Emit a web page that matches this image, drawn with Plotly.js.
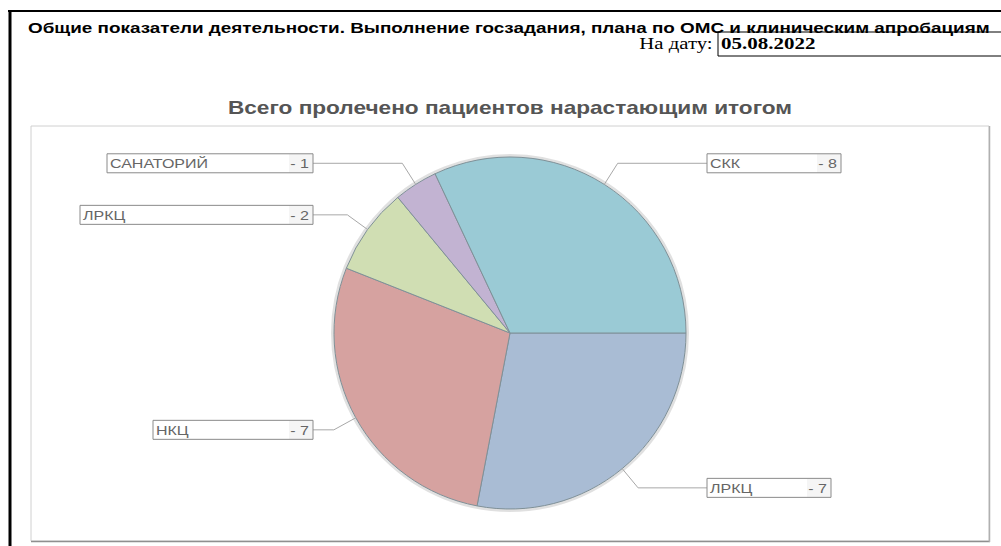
<!DOCTYPE html>
<html>
<head>
<meta charset="utf-8">
<script src="https://cdn.plot.ly/plotly-3.0.1.min.js"></script>
<style>
html, body { margin: 0; padding: 0; background: #fff; overflow: hidden; }
#chart { width: 1001px; height: 546px; }
</style>
</head>
<body>
<div id="chart"></div>
<script>
// ---- data (clockwise from 3 o'clock) ----
const labels = ["ЛРКЦ", "НКЦ", "ЛРКЦ", "САНАТОРИЙ", "СКК"];
const values = [7, 7, 2, 1, 8];
const colors = ["#a9bcd4", "#d6a2a0", "#d0deb3", "#c2b3d2", "#9acad5"];
const pageTitle = "Общие показатели деятельности. Выполнение госзадания, плана по ОМС и клиническим апробациям";
const chartTitle = "Всего пролечено пациентов нарастающим итогом";
const dateLabel = "На дату:";
const dateValue = "05.08.2022";

// ---- layout (pixels) ----
const W = 1001, H = 546;
const cx = 510, cy = 333, R = 176;
const boxH = 19;
const boxW = [124, 160, 233, 206, 134];   // label box widths, per slice
const leftEdge = 313, rightEdge = 707;
const STRETCH = 1.25;                      // horizontal text stretch of the original rendering

const px = x => x / W;
const py = y => 1 - y / H;

const total = values.reduce((a, b) => a + b, 0);
const shapes = [];
const annotations = [];
const sans = 'Liberation Sans, Arial, sans-serif';
const serif = 'Liberation Serif, Times New Roman, serif';

// page frame
shapes.push({type: 'line', xref: 'paper', yref: 'paper', x0: px(8), x1: px(1010), y0: py(11), y1: py(11), line: {color: '#000', width: 2}});
shapes.push({type: 'line', xref: 'paper', yref: 'paper', x0: px(10), x1: px(10), y0: py(10), y1: py(560), line: {color: '#000', width: 3}});
// chart frame
shapes.push({type: 'rect', xref: 'paper', yref: 'paper', x0: px(31), x1: px(989), y0: py(126), y1: py(541), line: {color: '#d0d0d0', width: 1}});
shapes.push({type: 'line', xref: 'paper', yref: 'paper', x0: px(31), x1: px(990), y0: py(541.5), y1: py(541.5), line: {color: '#8f8f8f', width: 1.5}});
shapes.push({type: 'line', xref: 'paper', yref: 'paper', x0: px(989.5), x1: px(989.5), y0: py(126), y1: py(542), line: {color: '#b0b0b0', width: 1.5}});
// date box
shapes.push({type: 'rect', xref: 'paper', yref: 'paper', x0: px(718), x1: px(1010), y0: py(32), y1: py(56), line: {color: '#000', width: 1}});
// soft shadow ring around the pie
shapes.push({type: 'circle', xref: 'paper', yref: 'paper', layer: 'below', x0: px(cx - R - 1.5), x1: px(cx + R + 1.5), y0: py(cy + R + 1.5), y1: py(cy - R - 1.5),
  line: {color: 'rgba(0,0,0,0.12)', width: 3}});

annotations.push({xref: 'paper', yref: 'paper', x: px(26), y: py(27), xanchor: 'left', yanchor: 'middle', align: 'left', showarrow: false,
  text: pageTitle, font: {family: sans, size: 15.1, weight: 'bold', color: '#000'}});
annotations.push({xref: 'paper', yref: 'paper', x: px(715), y: py(43.5), xanchor: 'right', yanchor: 'middle', align: 'right', showarrow: false,
  text: dateLabel, font: {family: serif, size: 16.6, color: '#000'}});
annotations.push({xref: 'paper', yref: 'paper', x: px(719), y: py(43.5), xanchor: 'left', yanchor: 'middle', align: 'left', showarrow: false,
  text: dateValue, font: {family: serif, size: 16.8, weight: 'bold', color: '#000'}});

// leader lines and label boxes derived from slice angles (clockwise from 3 o'clock)
let acc = 0;
values.forEach((v, i) => {
  const mid = (acc + v / 2) / total * 2 * Math.PI;
  acc += v;
  const ex = cx + R * Math.cos(mid), ey = cy + R * Math.sin(mid);
  const bx = cx + (R + 25) * Math.cos(mid), by = cy + (R + 25) * Math.sin(mid);
  const right = Math.cos(mid) > 0;
  const x0 = right ? rightEdge : leftEdge - boxW[i];
  const x1 = right ? rightEdge + boxW[i] : leftEdge;
  const lx = right ? x0 : x1;
  shapes.push({type: 'path', xref: 'paper', yref: 'paper',
    path: `M ${px(ex)} ${py(ey)} L ${px(bx)} ${py(by)} L ${px(lx)} ${py(by)}`,
    line: {color: '#a8a8a8', width: 1}});
  shapes.push({type: 'rect', xref: 'paper', yref: 'paper', x0: px(x1 - 24), x1: px(x1), y0: py(by - boxH / 2), y1: py(by + boxH / 2),
    line: {width: 0}, fillcolor: '#f5f5f5'});
  shapes.push({type: 'rect', xref: 'paper', yref: 'paper', x0: px(x0), x1: px(x1), y0: py(by - boxH / 2), y1: py(by + boxH / 2),
    line: {color: '#8a8a8a', width: 1}});
  annotations.push({xref: 'paper', yref: 'paper', x: px(x0 + 1), y: py(by + 0.5), xanchor: 'left', yanchor: 'middle', align: 'left', showarrow: false,
    text: labels[i], font: {family: sans, size: 12.8, color: '#666'}});
  annotations.push({xref: 'paper', yref: 'paper', x: px(x1 - 2), y: py(by + 0.5), xanchor: 'right', yanchor: 'middle', align: 'right', showarrow: false,
    text: '- ' + v, font: {family: sans, size: 12.8, color: '#666'}});
});

const trace = {
  type: 'pie',
  labels: labels.map((l, i) => l + ' ' + i),
  text: labels,
  values: values,
  sort: false,
  direction: 'clockwise',
  rotation: 90,
  textinfo: 'none',
  hoverinfo: 'text+value',
  marker: {colors: colors, line: {color: '#7f9097', width: 1}},
  domain: {x: [px(cx - R), px(cx + R)], y: [py(cy + R), py(cy - R)]},
  showlegend: false
};

const layout = {
  width: W, height: H,
  margin: {l: 0, r: 0, t: 0, b: 0},
  paper_bgcolor: '#fff',
  showlegend: false,
  title: {text: chartTitle, x: px(cx), xref: 'paper', xanchor: 'center', y: 1 - 108 / H, yref: 'container', yanchor: 'middle',
    font: {family: sans, size: 18.1, weight: 'bold', color: '#555'}},
  shapes: shapes,
  annotations: annotations
};

Plotly.newPlot('chart', [trace], layout, {displayModeBar: false, staticPlot: true}).then(gd => {
  // the original rendering is horizontally wider than these fonts: stretch each text line
  gd.querySelectorAll('text.annotation-text, text.gtitle').forEach(t => {
    const w = t.getComputedTextLength();
    if (w > 0) {
      t.setAttribute('textLength', (w * STRETCH).toFixed(1));
      t.setAttribute('lengthAdjust', 'spacingAndGlyphs');
    }
  });
});
</script>
</body>
</html>
